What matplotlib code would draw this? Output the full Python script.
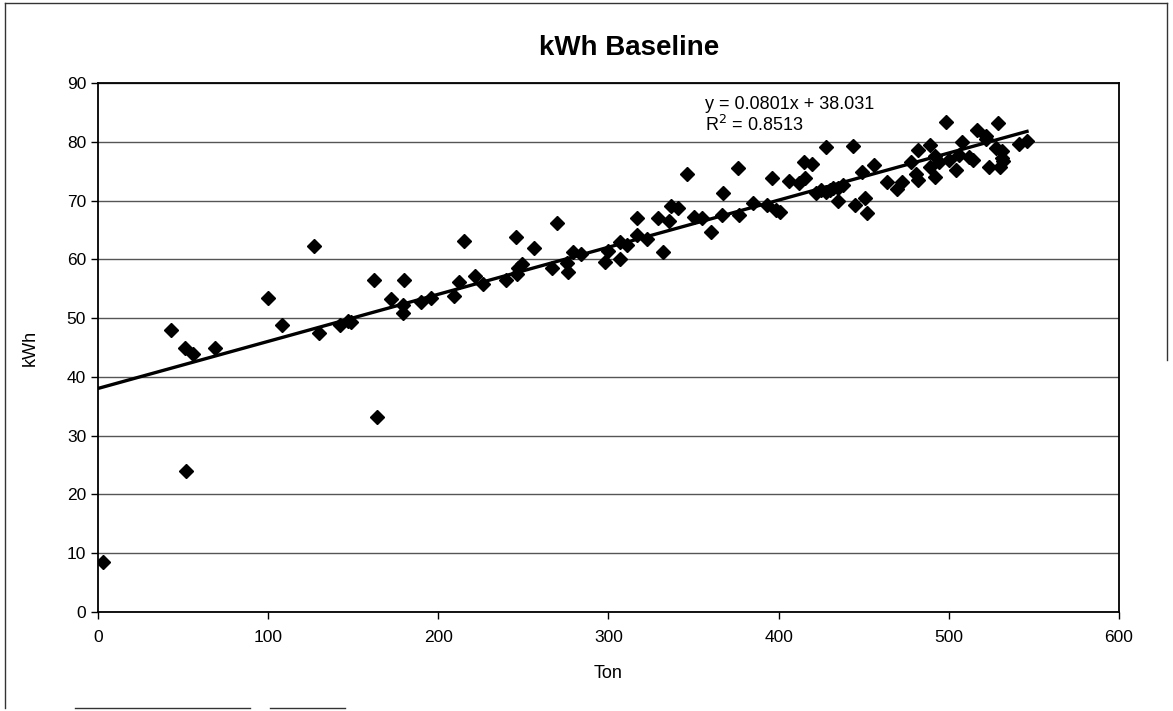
import numpy as np
import matplotlib
matplotlib.use("Agg")
from matplotlib import pyplot as plt
from matplotlib.lines import Line2D

plt.rcParams['font.family'] = ['Liberation Sans', 'DejaVu Sans']

# tonnage vs kWh
ton = [3, 52, 43, 51, 56, 68.6, 100, 108, 127, 130, 142, 147, 149, 162, 164,
       172, 180, 179, 179.5, 190, 196,
       209, 212, 215, 221.6, 226, 240, 245.5, 246, 247, 249, 256, 266.7, 270,
       276.5, 275.5, 279.4, 284, 298, 300, 307, 307, 311, 317, 316.7, 322.6,
       329.2, 332, 335.5, 337, 341,
       346, 350, 355, 360, 366.7, 367.6, 376, 377, 385, 393, 396, 398.5, 401,
       406, 412, 415.7, 414.7, 419.6, 425, 428, 427.8, 435, 435, 444, 444.7,
       449, 450.6, 452, 456, 422, 430, 432, 438,
       463.7, 469.6, 472.5, 478, 481, 482, 482, 489, 489, 492, 492, 494, 498.6,
       500, 504, 506, 508, 512, 514, 516.7, 521.6, 522, 523.5, 527.5, 529, 530,
       531, 531, 532, 541, 546]
kwh = [8.5, 24, 48, 45, 43.9, 45, 53.4, 48.9, 62.3, 47.5, 48.9, 49.5, 49.4, 56.5, 33.1,
       53.2, 56.5, 50.9, 52.2, 52.8, 53.5,
       53.8, 56.1, 63.2, 57.2, 55.8, 56.5, 63.8, 57.5, 58.6, 59.2, 61.9, 58.6, 66.2,
       57.9, 59.3, 61.2, 60.9, 59.6, 61.5, 60.1, 62.9, 62.5, 67.0, 64.1, 63.5,
       67.0, 61.2, 66.6, 69.1, 68.7,
       74.5, 67.2, 67.0, 64.7, 67.5, 71.2, 75.5, 67.6, 69.6, 69.2, 73.9, 68.4, 68.1,
       73.3, 72.9, 73.8, 76.6, 76.3, 71.8, 71.5, 79.1, 72.2, 70.0, 79.2, 69.3,
       74.9, 70.5, 67.9, 76.1, 71.3, 71.8, 72.1, 72.6,
       73.2, 72.0, 73.2, 76.6, 74.6, 73.5, 78.6, 79.4, 75.7, 77.5, 74.0, 76.6, 83.3,
       76.9, 75.2, 77.7, 80.0, 77.4, 76.9, 82.0, 81.0, 80.5, 75.7, 78.9, 83.2, 75.7,
       78.4, 77.2, 76.8, 79.7, 80.1]

# trendline as printed on the chart
slope = 0.0801
intercept = 38.031
r2 = 0.8513

fig = plt.figure(figsize=(11.73, 7.11), dpi=100)
ax = fig.add_axes([0.0835, 0.1392, 0.8704, 0.7441])

ax.set_xlim(0, 600)
ax.set_ylim(0, 90)
ax.set_xticks(np.arange(0, 601, 100))
ax.set_yticks(np.arange(0, 91, 10))
ax.yaxis.grid(True, color='#555555', lw=1.0)
ax.set_axisbelow(True)

ax.plot(ton, kwh, 'D', color='black', markersize=6.8, zorder=3)

xs = np.array([0, max(ton)])
ax.plot(xs, slope * xs + intercept, color='black', lw=2.4, zorder=4)

ax.text(357, 85.6, 'y = %.4fx + %.3f' % (slope, intercept), fontsize=13)
ax.text(357, 81.8, 'R$^2$ = %.4f' % r2, fontsize=13)

for s in ax.spines.values():
    s.set_color('black')
    s.set_linewidth(1.3)
ax.tick_params(direction='out', length=5, width=1, colors='black', labelsize=12.5)
ax.tick_params(axis='x', pad=8)

ax.set_title('kWh Baseline', fontsize=20, fontweight='bold', pad=20, x=0.52)
ax.set_xlabel('Ton', fontsize=13, labelpad=14)
ax.set_ylabel('kWh', fontsize=13, labelpad=20)

# scanned frame around the chart
W, H = 1173, 711
def seg(x0, y0, x1, y1):
    fig.add_artist(Line2D([x0 / W, x1 / W], [1 - y0 / H, 1 - y1 / H],
                          color='#333333', lw=1.0))
seg(5, 3, 1167, 3)
seg(5, 3, 5, 708)
seg(1167, 3, 1167, 360)
seg(75, 708, 250, 708)
seg(270, 708, 345, 708)

fig.savefig('out.png', dpi=100)
